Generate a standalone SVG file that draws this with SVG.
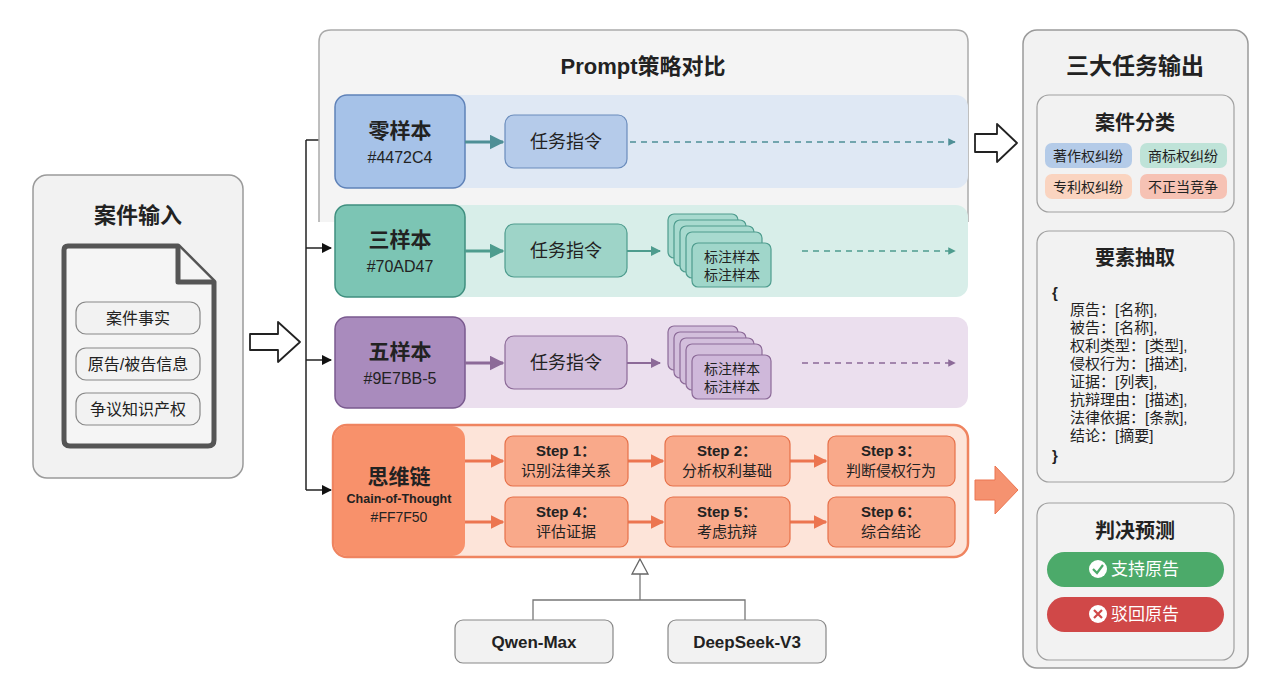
<svg xmlns="http://www.w3.org/2000/svg" width="1280" height="698" viewBox="0 0 1280 698">
<defs>
<style>
text{font-family:"Liberation Sans","Noto Sans CJK SC",sans-serif;fill:#222;text-anchor:middle}
.b{font-weight:bold}
.l{text-anchor:start}
.panel{fill:#f2f2f2;stroke:#9a9a9a;stroke-width:1.5}
.sub{fill:#f2f2f2;stroke:#a0a0a0;stroke-width:1.2}
.pill{fill:#f2f2f2;stroke:#888;stroke-width:1.2}
.hollow{fill:#fff;stroke:#222;stroke-width:1.8;stroke-linejoin:round}
.cn{stroke:#222;stroke-width:1.5;fill:none}
.step{fill:#f9a98a;stroke:#e6714a;stroke-width:1.2}
</style>
<marker id="ak" viewBox="0 0 10 10" refX="9" refY="5" markerWidth="7" markerHeight="7" orient="auto"><path d="M0,0L10,5L0,10z" fill="#111"/></marker>
<marker id="ab" viewBox="0 0 10 10" refX="9" refY="5" markerWidth="5" markerHeight="5" orient="auto"><path d="M0,0L10,5L0,10z" fill="#4f8f96"/></marker>
<marker id="ag" viewBox="0 0 10 10" refX="9" refY="5" markerWidth="5" markerHeight="5" orient="auto"><path d="M0,0L10,5L0,10z" fill="#4e9c8e"/></marker>
<marker id="ap" viewBox="0 0 10 10" refX="9" refY="5" markerWidth="5" markerHeight="5" orient="auto"><path d="M0,0L10,5L0,10z" fill="#8c6a98"/></marker>
<marker id="ao" viewBox="0 0 10 10" refX="9" refY="5" markerWidth="4.5" markerHeight="4.5" orient="auto"><path d="M0,0L10,5L0,10z" fill="#ec7550"/></marker>
</defs>
<rect width="1280" height="698" fill="#fff"/>

<g id="input">
<rect class="panel" x="33" y="175" width="210" height="303" rx="14"/>
<text class="b" x="138" y="223" font-size="22">案件输入</text>
<path d="M64,250 Q64,246 68,246 L178,246 L214,282 L214,440 Q214,446 208,446 L70,446 Q64,446 64,440Z" fill="#f5f5f5" stroke="#555" stroke-width="5" stroke-linejoin="round"/>
<path d="M178,246 L178,282 L214,282" fill="#f5f5f5" stroke="#555" stroke-width="5" stroke-linejoin="round"/>
<rect class="pill" x="76" y="302" width="124" height="32" rx="10"/><text x="138" y="324" font-size="16">案件事实</text>
<rect class="pill" x="76" y="348" width="124" height="32" rx="10"/><text x="138" y="370" font-size="16">原告/被告信息</text>
<rect class="pill" x="76" y="393" width="124" height="32" rx="10"/><text x="138" y="415" font-size="16">争议知识产权</text>
</g>

<g id="connectors">
<path class="hollow" d="M250,334 L278,334 L278,322 L300,342 L278,362 L278,350 L250,350Z"/>
<path class="cn" d="M306,140 L306,490"/>
<path class="cn" d="M306,140 L331,140" marker-end="url(#ak)"/>
<path class="cn" d="M306,248 L331,248" marker-end="url(#ak)"/>
<path class="cn" d="M306,360 L331,360" marker-end="url(#ak)"/>
<path class="cn" d="M306,490 L331,490" marker-end="url(#ak)"/>
<path class="hollow" d="M975,134 L997,134 L997,124 L1017,143 L997,162 L997,152 L975,152Z"/>
<path d="M975,480 L995,480 L995,466 L1018,490 L995,514 L995,500 L975,500Z" fill="#f59270" stroke="#ec7550" stroke-width="1"/>
<path d="M640,600 L640,573" stroke="#777" stroke-width="1.3" fill="none"/>
<path d="M640,559 L648,574 L632,574Z" fill="#fff" stroke="#666" stroke-width="1.3"/>
<path d="M533,620 L533,600 L745,600 L745,620" stroke="#777" stroke-width="1.3" fill="none"/>
</g>

<g id="prompt">
<path d="M319,222 L319,42 Q319,30 331,30 L956,30 Q968,30 968,42 L968,222" fill="#f4f4f4" stroke="#aaa" stroke-width="1.5"/>
<text class="b" x="643" y="74" font-size="22">Prompt策略对比</text>
</g>

<g id="zero">
<rect x="335" y="95" width="633" height="93" rx="12" fill="#dfe8f4"/>
<rect x="335" y="95" width="130" height="93" rx="12" fill="#a6c2e8" stroke="#5f82b8" stroke-width="1.5"/>
<text class="b" x="400" y="138" font-size="21">零样本</text><text x="400" y="163" font-size="16">#4472C4</text>
<path d="M465,142 L503,142" stroke="#4f8f96" stroke-width="3" marker-end="url(#ab)"/>
<rect x="505" y="115" width="122" height="53" rx="9" fill="#b5cbea" stroke="#6a8cbc" stroke-width="1.2"/>
<text x="566" y="148" font-size="18">任务指令</text>
<path d="M630,142 L955,142" stroke="#4f8f96" stroke-width="1.5" stroke-dasharray="6,5" marker-end="url(#ab)"/>
</g>

<g id="three">
<rect x="335" y="205" width="633" height="92" rx="12" fill="#d8eee9"/>
<rect x="335" y="205" width="130" height="92" rx="12" fill="#7cc5b4" stroke="#3f8f7f" stroke-width="1.5"/>
<text class="b" x="400" y="247" font-size="21">三样本</text><text x="400" y="272" font-size="16">#70AD47</text>
<path d="M465,251 L503,251" stroke="#4e9c8e" stroke-width="3" marker-end="url(#ag)"/>
<rect x="505" y="224" width="122" height="53" rx="9" fill="#9ed4c8" stroke="#4e9c8e" stroke-width="1.2"/>
<text x="566" y="257" font-size="18">任务指令</text>
<path d="M627,251 L660,251" stroke="#4e9c8e" stroke-width="2" marker-end="url(#ag)"/>
<g fill="#a8dacf" stroke="#4e9c8e" stroke-width="1.2">
<rect x="668" y="214" width="70" height="44" rx="6"/><rect x="674" y="220" width="72" height="46" rx="6"/><rect x="680" y="226" width="74" height="46" rx="6"/><rect x="686" y="232" width="76" height="46" rx="6"/><rect x="692" y="243" width="79" height="44" rx="6" fill="#a0d6ca"/>
</g>
<text x="732" y="262" font-size="14">标注样本</text><text x="732" y="280" font-size="14">标注样本</text>
<path d="M802,251 L955,251" stroke="#4e9c8e" stroke-width="1.5" stroke-dasharray="6,5" marker-end="url(#ag)"/>
</g>

<g id="five">
<rect x="335" y="317" width="633" height="91" rx="12" fill="#ebdfee"/>
<rect x="335" y="317" width="130" height="91" rx="12" fill="#a98bbd" stroke="#7a5a8f" stroke-width="1.5"/>
<text class="b" x="400" y="359" font-size="21">五样本</text><text x="400" y="384" font-size="16">#9E7BB-5</text>
<path d="M465,363 L503,363" stroke="#8c6a98" stroke-width="3" marker-end="url(#ap)"/>
<rect x="505" y="336" width="122" height="53" rx="9" fill="#d3bfdc" stroke="#8c6a98" stroke-width="1.2"/>
<text x="566" y="369" font-size="18">任务指令</text>
<path d="M627,363 L660,363" stroke="#8c6a98" stroke-width="2" marker-end="url(#ap)"/>
<g fill="#d3bfdc" stroke="#8c6a98" stroke-width="1.2">
<rect x="668" y="326" width="70" height="44" rx="6"/><rect x="674" y="332" width="72" height="46" rx="6"/><rect x="680" y="338" width="74" height="46" rx="6"/><rect x="686" y="344" width="76" height="46" rx="6"/><rect x="692" y="355" width="79" height="44" rx="6" fill="#cfb8da"/>
</g>
<text x="732" y="374" font-size="14">标注样本</text><text x="732" y="392" font-size="14">标注样本</text>
<path d="M802,363 L955,363" stroke="#8c6a98" stroke-width="1.5" stroke-dasharray="6,5" marker-end="url(#ap)"/>
</g>

<g id="cot">
<rect x="333" y="425" width="635" height="132" rx="14" fill="#fde4d9" stroke="#ef8460" stroke-width="2.5"/>
<rect x="334" y="426" width="131" height="130" rx="13" fill="#f8916b"/>
<text class="b" x="399" y="484" font-size="21">思维链</text>
<text class="b" x="399" y="503" font-size="12.5">Chain-of-Thought</text>
<text x="399" y="522" font-size="14">#FF7F50</text>
<g stroke="#ec7550" stroke-width="3">
<path d="M465,461 L503,461" marker-end="url(#ao)"/><path d="M628,461 L663,461" marker-end="url(#ao)"/><path d="M790,461 L826,461" marker-end="url(#ao)"/>
<path d="M465,522 L503,522" marker-end="url(#ao)"/><path d="M628,522 L663,522" marker-end="url(#ao)"/><path d="M790,522 L826,522" marker-end="url(#ao)"/>
</g>
<rect class="step" x="505" y="436" width="123" height="50" rx="8"/><text x="566" y="456" class="b" font-size="15">Step 1：</text><text x="566" y="476" font-size="15">识别法律关系</text>
<rect class="step" x="665" y="436" width="125" height="50" rx="8"/><text x="727" y="456" class="b" font-size="15">Step 2：</text><text x="727" y="476" font-size="15">分析权利基础</text>
<rect class="step" x="828" y="436" width="127" height="50" rx="8"/><text x="891" y="456" class="b" font-size="15">Step 3：</text><text x="891" y="476" font-size="15">判断侵权行为</text>
<rect class="step" x="505" y="497" width="123" height="50" rx="8"/><text x="566" y="517" class="b" font-size="15">Step 4：</text><text x="566" y="537" font-size="15">评估证据</text>
<rect class="step" x="665" y="497" width="125" height="50" rx="8"/><text x="727" y="517" class="b" font-size="15">Step 5：</text><text x="727" y="537" font-size="15">考虑抗辩</text>
<rect class="step" x="828" y="497" width="127" height="50" rx="8"/><text x="891" y="517" class="b" font-size="15">Step 6：</text><text x="891" y="537" font-size="15">综合结论</text>
</g>

<g id="qwen"><rect class="pill" x="455" y="620" width="158" height="43" rx="8"/><text class="b" x="534" y="648" font-size="17">Qwen-Max</text></g>
<g id="deepseek"><rect class="pill" x="668" y="620" width="158" height="43" rx="8"/><text class="b" x="747" y="648" font-size="17">DeepSeek-V3</text></g>

<g id="output">
<rect class="panel" x="1023" y="30" width="225" height="638" rx="14"/>
<text class="b" x="1135" y="74" font-size="23">三大任务输出</text>
</g>
<g id="classify">
<rect class="sub" x="1037" y="95" width="197" height="117" rx="12"/>
<text class="b" x="1135" y="130" font-size="20">案件分类</text>
<rect x="1045" y="143" width="87" height="25" rx="7" fill="#b4cbe8"/><text x="1088" y="161" font-size="14">著作权纠纷</text>
<rect x="1140" y="143" width="87" height="25" rx="7" fill="#bfe3d8"/><text x="1183" y="161" font-size="14">商标权纠纷</text>
<rect x="1045" y="174" width="87" height="25" rx="7" fill="#fad4c0"/><text x="1088" y="192" font-size="14">专利权纠纷</text>
<rect x="1140" y="174" width="87" height="25" rx="7" fill="#f6c2b4"/><text x="1183" y="192" font-size="14">不正当竞争</text>
</g>
<g id="extract">
<rect class="sub" x="1037" y="231" width="197" height="251" rx="12"/>
<text class="b" x="1135" y="265" font-size="20">要素抽取</text>
<g font-size="15">
<text class="l b" x="1052" y="298">{</text>
<text class="l" x="1070" y="315">原告：[名称],</text>
<text class="l" x="1070" y="333">被告：[名称],</text>
<text class="l" x="1070" y="351">权利类型：[类型],</text>
<text class="l" x="1070" y="369">侵权行为：[描述],</text>
<text class="l" x="1070" y="387">证据：[列表],</text>
<text class="l" x="1070" y="405">抗辩理由：[描述],</text>
<text class="l" x="1070" y="423">法律依据：[条款],</text>
<text class="l" x="1070" y="441">结论：[摘要]</text>
<text class="l b" x="1052" y="461">}</text>
</g>
</g>
<g id="predict">
<rect class="sub" x="1037" y="503" width="197" height="157" rx="12"/>
<text class="b" x="1135" y="538" font-size="20">判决预测</text>
<rect x="1047" y="552" width="177" height="35" rx="17.5" fill="#4caa6a"/>
<circle cx="1098" cy="569" r="9" fill="#fff"/><path d="M1093,569 L1097,573 L1103,565" stroke="#4caa6a" stroke-width="2.2" fill="none"/>
<text x="1145" y="575" font-size="17" style="fill:#fff">支持原告</text>
<rect x="1047" y="597" width="177" height="35" rx="17.5" fill="#d04848"/>
<circle cx="1098" cy="614" r="9" fill="#fff"/><path d="M1094,610 L1102,618 M1102,610 L1094,618" stroke="#d04848" stroke-width="2.2"/>
<text x="1145" y="620" font-size="17" style="fill:#fff">驳回原告</text>
</g>
</svg>
